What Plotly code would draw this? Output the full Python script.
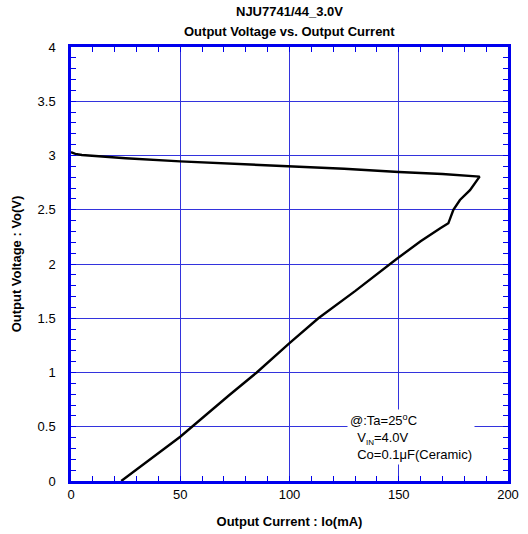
import plotly.graph_objects as go

# Output current (mA) along the measured path: load increasing, then foldback
current_ma = [0, 2, 5, 25, 50, 75, 100, 125, 150, 170, 187,
              185, 182.6, 178, 175, 172.7, 169, 160, 149, 130, 113.2,
              100, 85, 72.5, 50, 23]
# Output voltage (V)
voltage_v = [3.03, 3.015, 3.005, 2.975, 2.946, 2.925, 2.903, 2.878, 2.848, 2.83, 2.805,
             2.745, 2.68, 2.59, 2.50, 2.375, 2.33, 2.21, 2.046, 1.75, 1.5,
             1.27, 1.0, 0.793, 0.408, 0.0]

x_ticks = [0, 50, 100, 150, 200]
y_ticks = [0, 0.5, 1, 1.5, 2, 2.5, 3, 3.5, 4]
y_tick_labels = ["0", "0.5", "1", "1.5", "2", "2.5", "3", "3.5", "4"]

FONT = "Liberation Sans, Arial, sans-serif"
AX = "#0000EE"
GRID = "#3333DD"

fig = go.Figure()
fig.add_trace(go.Scatter(x=current_ma, y=voltage_v, mode="lines",
                         line=dict(color="black", width=2.4),
                         showlegend=False))

axis_common = dict(
    showline=True, linecolor=AX, linewidth=2.5, mirror="ticks",
    showgrid=True, gridcolor=GRID, gridwidth=1,
    ticks="inside", ticklen=5, tickcolor=AX, tickwidth=1,
    tickfont=dict(family=FONT, size=13, color="black"),
    zeroline=False, automargin=False,
)

fig.update_layout(
    width=528, height=534,
    margin=dict(l=71, r=20, t=47, b=53, autoexpand=False),
    paper_bgcolor="white", plot_bgcolor="white",
    xaxis=dict(range=[0, 200], tickvals=x_ticks,
               minor=dict(dtick=10, ticks="inside", ticklen=5, tickcolor=AX, showgrid=False),
               title=dict(text="<b>Output Current : Io(mA)</b>", standoff=16,
                          font=dict(family=FONT, size=13, color="black")),
               **axis_common),
    yaxis=dict(range=[0, 4], tickvals=y_ticks, ticktext=y_tick_labels,
               ticklabelstandoff=10,
               minor=dict(dtick=0.1, ticks="inside", ticklen=5, tickcolor=AX, showgrid=False),
               title=dict(text="<b>Output Voltage : Vo(V)</b>", standoff=14,
                          font=dict(family=FONT, size=13, color="black")),
               **axis_common),
    font=dict(family=FONT, size=13, color="black"),
)

# Title (two lines)
fig.add_annotation(x=0.5, y=1.0, xref="paper", yref="paper", yshift=36,
                   text="<b>NJU7741/44_3.0V</b>", showarrow=False,
                   xanchor="center", yanchor="middle",
                   font=dict(family=FONT, size=13, color="black"))
fig.add_annotation(x=0.5, y=1.0, xref="paper", yref="paper", yshift=16,
                   text="<b>Output Voltage vs. Output Current</b>", showarrow=False,
                   xanchor="center", yanchor="middle",
                   font=dict(family=FONT, size=13, color="black"))

fig.add_annotation(
    x=126.2, y=0.66, xref="x", yref="y", xanchor="left", yanchor="top",
    align="left", showarrow=False, bgcolor="white", borderpad=2,
    text="@:Ta=25<sup>o</sup>C<br>\u00a0\u00a0V<sub><span style='font-size:8px'>IN</span></sub>=4.0V<br>\u00a0\u00a0Co=0.1μF(Ceramic)",
    font=dict(family=FONT, size=13, color="black"),
)

# remove the browser's default 8px body margin so the figure sits at (0, 0)
fig.write_html("out.html", config={"displayModeBar": False},
               post_script="document.body.style.margin='0';")
